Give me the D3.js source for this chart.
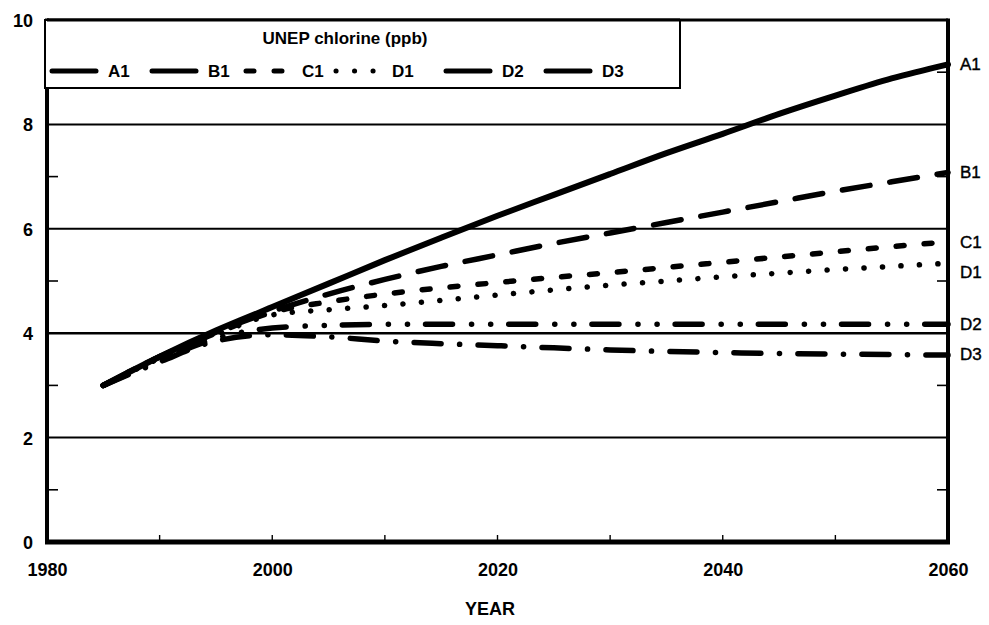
<!DOCTYPE html>
<html>
<head>
<meta charset="utf-8">
<script src="https://cdn.jsdelivr.net/npm/d3@7"></script>
<style>
  html, body { margin: 0; padding: 0; background: #fff; }
  svg { display: block; }
  text { font-family: "Liberation Sans", Arial, Helvetica, sans-serif; font-weight: bold; fill: #000; }
</style>
</head>
<body>
<svg id="chart" width="989" height="625"></svg>
<script>
// Projected chlorine loading (ppb) for the UNEP scenarios
const years = [1985, 1990, 1995, 2000, 2005, 2010, 2015, 2020, 2025, 2030, 2035, 2040, 2045, 2050, 2055, 2060];
const seriesNames = ["A1", "B1", "C1", "D1", "D2", "D3"];
const A1 = [3.0, 3.55, 4.05, 4.5, 4.95, 5.4, 5.83, 6.25, 6.65, 7.05, 7.45, 7.82, 8.2, 8.55, 8.88, 9.15];
const B1 = [3.0, 3.55, 4.02, 4.42, 4.75, 5.03, 5.28, 5.5, 5.72, 5.92, 6.12, 6.32, 6.52, 6.72, 6.9, 7.08];
const C1 = [3.0, 3.55, 4.0, 4.4, 4.6, 4.75, 4.87, 4.97, 5.07, 5.16, 5.26, 5.36, 5.46, 5.56, 5.66, 5.75];
const D1 = [3.0, 3.52, 3.97, 4.35, 4.45, 4.53, 4.63, 4.73, 4.83, 4.92, 5.0, 5.08, 5.15, 5.22, 5.28, 5.34];
const D2 = [3.0, 3.48, 3.9, 4.1, 4.15, 4.17, 4.17, 4.17, 4.17, 4.17, 4.17, 4.17, 4.17, 4.17, 4.17, 4.17];
const D3 = [3.0, 3.45, 3.85, 3.97, 3.93, 3.85, 3.8, 3.76, 3.72, 3.68, 3.65, 3.63, 3.61, 3.6, 3.59, 3.58];
// where the end-of-line labels sit on the right edge (ppb)
const endLabelValues = [9.15, 7.1, 5.75, 5.18, 4.17, 3.6];
const xTickValues = [1980, 2000, 2020, 2040, 2060];
const xMinorTicks = [1990, 2000, 2010, 2020, 2030, 2040, 2050];
const yTickValues = [0, 2, 4, 6, 8, 10];
const yMinorTicks = [1, 3, 5, 7, 9];
const gridValues = [2, 4, 6, 8];

const seriesValues = [A1, B1, C1, D1, D2, D3];
const dashes = {
  A1: null,
  B1: "28,20",
  C1: "8,20",
  D1: "0.1,18.4",
  D2: "27,19,0.1,19,0.1,18",
  D3: "27,18.5,0.1,18.4"
};

const svg = d3.select("#chart");
const plotLeft = 47, plotRight = 948, plotTop = 20, plotBottom = 542;

const x = d3.scaleLinear().domain([1980, 2060]).range([plotLeft, plotRight]);
const y = d3.scaleLinear().domain([0, 10]).range([plotBottom, plotTop]);

// horizontal grid lines
svg.append("g").selectAll("line").data(gridValues).join("line")
  .attr("x1", plotLeft).attr("x2", plotRight)
  .attr("y1", d => y(d)).attr("y2", d => y(d))
  .attr("stroke", "#000").attr("stroke-width", d => d === 4 ? 2.5 : 2);

// left axis with labels and short inward ticks at odd values
const yAxis = d3.axisLeft(y).tickValues(yTickValues).tickSize(0).tickPadding(14).tickFormat(d3.format("d"));
const gy = svg.append("g").attr("transform", `translate(${plotLeft},0)`).call(yAxis);
gy.select(".domain").remove();
gy.selectAll("text").style("font-size", "18px").attr("dy", "0.36em");

svg.append("g").selectAll("line").data(yMinorTicks).join("line")
  .attr("x1", plotLeft).attr("x2", plotLeft + 11)
  .attr("y1", d => y(d)).attr("y2", d => y(d))
  .attr("stroke", "#000").attr("stroke-width", 1.6);

// right side inward ticks
svg.append("g").selectAll("line").data(yMinorTicks).join("line")
  .attr("x1", plotRight).attr("x2", plotRight - 11)
  .attr("y1", d => y(d)).attr("y2", d => y(d))
  .attr("stroke", "#000").attr("stroke-width", 1.6);

// bottom axis
const xAxis = d3.axisBottom(x).tickValues(xTickValues).tickSize(0).tickPadding(21).tickFormat(d3.format("d"));
const gx = svg.append("g").attr("transform", `translate(0,${plotBottom})`).call(xAxis);
gx.select(".domain").remove();
gx.selectAll("text").style("font-size", "18px");

svg.append("g").selectAll("line").data(xMinorTicks).join("line")
  .attr("x1", d => x(d)).attr("x2", d => x(d))
  .attr("y1", plotBottom).attr("y2", plotBottom - 7)
  .attr("stroke", "#000").attr("stroke-width", 1.4);

// frame
svg.append("line").attr("x1", plotLeft).attr("x2", plotRight).attr("y1", plotTop).attr("y2", plotTop)
  .attr("stroke", "#000").attr("stroke-width", 3);
svg.append("line").attr("x1", plotLeft).attr("x2", plotLeft).attr("y1", plotTop - 1.5).attr("y2", plotBottom + 2)
  .attr("stroke", "#000").attr("stroke-width", 4);
svg.append("line").attr("x1", plotRight).attr("x2", plotRight).attr("y1", plotTop - 1.5).attr("y2", plotBottom + 2)
  .attr("stroke", "#000").attr("stroke-width", 4);
svg.append("line").attr("x1", plotLeft - 2).attr("x2", plotRight + 2).attr("y1", plotBottom).attr("y2", plotBottom)
  .attr("stroke", "#000").attr("stroke-width", 5);

// axis title
svg.append("text").attr("x", 490).attr("y", 615)
  .attr("text-anchor", "middle").style("font-size", "18px").text("YEAR");

// scenario lines
const line = d3.line()
  .x((d, i) => x(years[i]))
  .y(d => y(d))
  .curve(d3.curveMonotoneX);

const lines = svg.append("g").attr("fill", "none").attr("stroke", "#000")
  .attr("stroke-linecap", "round").attr("stroke-linejoin", "round");
seriesNames.forEach((name, k) => {
  lines.append("path")
    .attr("d", line(seriesValues[k]))
    .attr("stroke-width", name === "A1" ? 6 : 5.5)
    .attr("stroke-dasharray", dashes[name]);
});

// labels at the right end of each line
svg.append("g").selectAll("text").data(seriesNames).join("text")
  .attr("x", plotRight + 12)
  .attr("y", (d, i) => y(endLabelValues[i]))
  .attr("dy", "0.36em")
  .style("font-size", "17px")
  .style("font-weight", "normal")
  .style("stroke", "#000").style("stroke-width", 0.4)
  .text(d => d);

// legend box
const legend = svg.append("g");
legend.append("rect")
  .attr("x", plotLeft - 2).attr("y", plotTop).attr("width", 680 - plotLeft + 2).attr("height", 88 - plotTop)
  .attr("fill", "#fff").attr("stroke", "#000").attr("stroke-width", 2);
legend.append("line").attr("x1", plotLeft).attr("x2", 680).attr("y1", plotTop).attr("y2", plotTop)
  .attr("stroke", "#000").attr("stroke-width", 3);
legend.append("text").attr("x", 345).attr("y", 44).attr("text-anchor", "middle")
  .style("font-size", "17px").text("UNEP chlorine (ppb)");

const legendX = [52, 152, 246, 336, 446, 546];
seriesNames.forEach((name, k) => {
  const lx = legendX[k];
  legend.append("line")
    .attr("x1", lx).attr("x2", lx + 44).attr("y1", 71).attr("y2", 71)
    .attr("stroke", "#000").attr("stroke-width", 5).attr("stroke-linecap", "round")
    .attr("stroke-dasharray", name === "A1" || name === "D2" || name === "D3" || name === "B1" ? null : dashes[name]);
  legend.append("text").attr("x", lx + 56).attr("y", 71).attr("dy", "0.36em")
    .style("font-size", "17px").text(name);
});
</script>
</body>
</html>
